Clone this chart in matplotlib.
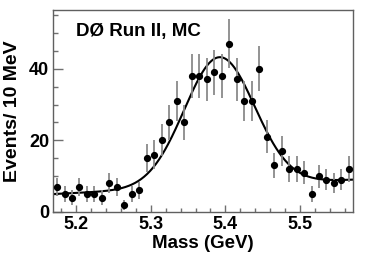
import numpy as np
import matplotlib
matplotlib.use("Agg")
import matplotlib.pyplot as plt
from matplotlib.ticker import MultipleLocator

# ── Histogram (MC, 10 MeV bins) ───────────────────────────────────────────
mass = [5.175, 5.185, 5.195, 5.205, 5.215, 5.225, 5.235, 5.245, 5.255, 5.265,
        5.275, 5.285, 5.295, 5.305, 5.315, 5.325, 5.335, 5.345, 5.355, 5.365,
        5.375, 5.385, 5.395, 5.405, 5.415, 5.425, 5.435, 5.445, 5.455, 5.465,
        5.475, 5.485, 5.495, 5.505, 5.515, 5.525, 5.535, 5.545, 5.555, 5.565]
counts = [7, 5, 4, 7, 5, 5, 4, 8, 7, 2,
          5, 6, 15, 16, 20, 25, 31, 25, 38, 38,
          37, 39, 38, 47, 37, 31, 31, 40, 21, 13,
          17, 12, 12, 11, 5, 10, 9, 8, 9, 12]
errors = [2.6, 2.2, 2.0, 2.6, 2.2, 2.2, 2.0, 2.8, 2.6, 1.4,
          2.2, 2.4, 3.9, 4.0, 4.5, 5.0, 5.6, 5.0, 6.2, 6.2,
          6.1, 6.2, 6.2, 6.9, 6.1, 5.6, 5.6, 6.3, 4.6, 3.6,
          4.1, 3.5, 3.5, 3.3, 2.2, 3.2, 3.0, 2.8, 3.0, 3.5]

# ── Fit: gaussian + linear background ─────────────────────────────────────
FIT_MEAN = 5.392
FIT_SIGMA = 0.047
FIT_AMP = 36.0
BKG_LO = 5.0   # background at x = 5.17
BKG_HI = 9.0   # background at x = 5.57

XMIN, XMAX = 5.17, 5.57
YMIN, YMAX = 0, 56.4

FONT = "Liberation Sans"

fig = plt.figure(figsize=(3.74, 2.56), dpi=100)
ax = fig.add_axes([0.1425, 0.172, 0.8005, 0.789])

xf = np.linspace(XMIN, XMAX, 400)
bkg = BKG_LO + (BKG_HI - BKG_LO) * (xf - XMIN) / (XMAX - XMIN)
yf = bkg + FIT_AMP * np.exp(-0.5 * ((xf - FIT_MEAN) / FIT_SIGMA) ** 2)
ax.plot(xf, yf, color="black", lw=1.5, zorder=2)

ax.errorbar(mass, counts, yerr=errors, fmt="none", ecolor="#8a8a8a",
            elinewidth=1.3, capsize=0, zorder=3)
ax.plot(mass, counts, "o", color="black", ms=4.2, zorder=4)

ax.set_xlim(XMIN, XMAX)
ax.set_ylim(YMIN, YMAX)

ax.xaxis.set_major_locator(MultipleLocator(0.1))
ax.xaxis.set_minor_locator(MultipleLocator(0.02))
ax.yaxis.set_major_locator(MultipleLocator(20))
ax.yaxis.set_minor_locator(MultipleLocator(5))

ax.tick_params(axis="both", which="both", direction="in", colors="#707070",
               top=False, right=False, labelcolor="black")
ax.tick_params(axis="x", which="major", length=5, width=1, pad=3)
ax.tick_params(axis="x", which="minor", length=3, width=1)
ax.tick_params(axis="y", which="major", length=7, width=1, pad=3)
ax.tick_params(axis="y", which="minor", length=3.5, width=1)

for lab in ax.get_xticklabels() + ax.get_yticklabels():
    lab.set_fontfamily(FONT)
    lab.set_fontweight("bold")
    lab.set_fontsize(13)

for sp in ax.spines.values():
    sp.set_color("#606060")
    sp.set_linewidth(1.0)

ax.set_xlabel("Mass (GeV)", fontfamily=FONT, fontweight="bold",
              fontsize=13.5, labelpad=1)
ax.set_ylabel("Events/ 10 MeV", fontfamily=FONT, fontweight="bold",
              fontsize=14, labelpad=6)

ax.text(0.076, 0.87, "DØ Run II, MC", transform=ax.transAxes,
        fontfamily=FONT, fontweight="bold", fontsize=13.5,
        ha="left", va="baseline")

fig.savefig("out.png", dpi=100)
